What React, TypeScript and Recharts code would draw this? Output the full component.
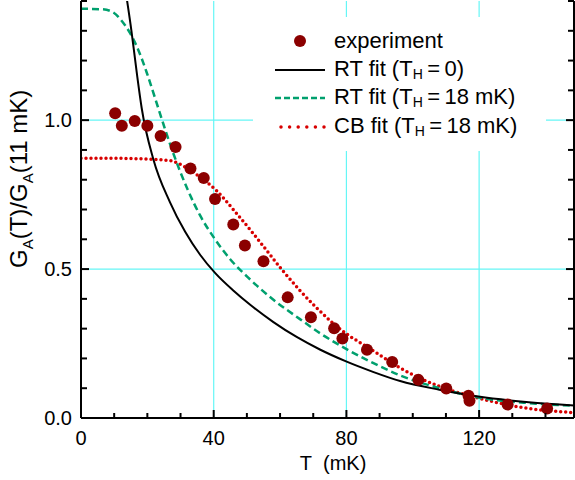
import React from "react";
import {
  ComposedChart, Line, Scatter, XAxis, YAxis, ReferenceLine,
} from "recharts";

// measured points
const expT = [10.3, 12.3, 16.2, 20.0, 24.0, 28.5, 33.0, 37.0, 40.4, 45.9, 49.4, 55.0, 62.3, 69.3, 76.3, 78.8, 86.2, 93.8, 101.7, 110.1, 116.8, 117.1, 128.6, 140.5];
const expG = [1.023, 0.981, 0.997, 0.981, 0.947, 0.910, 0.838, 0.806, 0.735, 0.650, 0.579, 0.526, 0.405, 0.338, 0.301, 0.267, 0.229, 0.188, 0.128, 0.099, 0.075, 0.058, 0.045, 0.032];

// RT fit, T_H = 0
const rt0T = [13.5, 15.2, 16.8, 18.3, 21.8, 26.8, 31.4, 35.9, 40.4, 45.9, 51.0, 58.0, 65.0, 72.0, 79.9, 88.0, 96.2, 108.0, 119.8, 135.0, 148.6];
const rt0G = [1.43, 1.30, 1.16, 1.04, 0.869, 0.725, 0.625, 0.548, 0.487, 0.428, 0.380, 0.322, 0.272, 0.230, 0.190, 0.155, 0.124, 0.095, 0.072, 0.053, 0.042];

// RT fit, T_H = 18 mK
const rt18T = [0, 6.6, 9.7, 12.3, 14.8, 17.3, 19.8, 22.3, 24.8, 27.3, 29.8, 32.3, 35.9, 40.4, 44.9, 51.0, 58.0, 66.0, 72.0, 79.9, 88.0, 96.2, 108.0, 119.8, 135.0, 148.6];
const rt18G = [1.374, 1.372, 1.362, 1.333, 1.292, 1.235, 1.16, 1.075, 0.988, 0.905, 0.83, 0.763, 0.68, 0.60, 0.534, 0.465, 0.397, 0.332, 0.285, 0.232, 0.185, 0.143, 0.10, 0.069, 0.050, 0.041];

// CB fit, T_H = 18 mK
const cbT = [0, 10, 18, 21.8, 26.8, 31.8, 36.9, 40.9, 45.9, 52.0, 56.0, 61.0, 66.0, 71.0, 76.0, 81.0, 86.1, 96.2, 108.3, 119.8, 131.4, 148.6];
const cbG = [0.872, 0.872, 0.870, 0.868, 0.864, 0.84, 0.80, 0.763, 0.70, 0.618, 0.562, 0.492, 0.428, 0.37, 0.318, 0.275, 0.24, 0.168, 0.105, 0.067, 0.038, 0.018];

const xTicks = [0, 10, 20, 30, 40, 50, 60, 70, 80, 90, 100, 110, 120, 130, 140];
const xLabels = [0, 40, 80, 120];
const yTicks = [0, 0.1, 0.2, 0.3, 0.4, 0.5, 0.6, 0.7, 0.8, 0.9, 1.0, 1.1, 1.2, 1.3, 1.4];
const yLabels = [0, 0.5, 1.0];
const xGrid = [40, 80, 120];
const yGrid = [0.5, 1.0];

const zip = (xs: number[], ys: number[]) => xs.map((T, i) => ({ T, y: ys[i] }));
const experiment = zip(expT, expG);
const rt0 = zip(rt0T, rt0G);
const rt18 = zip(rt18T, rt18G);
const cb = zip(cbT, cbG);

const FONT = '"Liberation Sans", Arial, sans-serif';
const DOT = "#8b0000";
const GREEN = "#00a06e";
const RED = "#d80000";
const GRID = "#66f6f6";

const isMajorY = (v: number) => yLabels.some((m) => Math.abs(m - v) < 1e-6);

const BottomTick = (p: any) => {
  const v = p.payload.value;
  const major = xLabels.includes(v);
  return (
    <g>
      <line x1={p.x} x2={p.x} y1={p.y} y2={p.y - (major ? 8 : 5)} stroke="#000" strokeWidth={2} />
      {major && (
        <text x={p.x} y={p.y + 27} textAnchor="middle" fontSize={20} fontFamily={FONT} fill="#000">{v}</text>
      )}
    </g>
  );
};

const TopTick = (p: any) => {
  const major = xLabels.includes(p.payload.value);
  return <line x1={p.x} x2={p.x} y1={p.y} y2={p.y + (major ? 8 : 5)} stroke="#000" strokeWidth={2} />;
};

const LeftTick = (p: any) => {
  const v = p.payload.value;
  const major = isMajorY(v);
  return (
    <g>
      <line x1={p.x} x2={p.x + (major ? 8 : 6)} y1={p.y} y2={p.y} stroke="#000" strokeWidth={2} />
      {major && (
        <text x={p.x - 9} y={p.y + 7} textAnchor="end" fontSize={20} fontFamily={FONT} fill="#000">{v.toFixed(1)}</text>
      )}
    </g>
  );
};

const RightTick = (p: any) => {
  const major = isMajorY(p.payload.value);
  return <line x1={p.x} x2={p.x - (major ? 8 : 6)} y1={p.y} y2={p.y} stroke="#000" strokeWidth={2} />;
};

const YTitle = () => (
  <text x={27} y={268} transform="rotate(-90, 27, 268)" fontSize={24} fontFamily={FONT} fill="#000">
    G<tspan fontSize={15} dy={6}>A</tspan>
    <tspan dy={-6}>(T)/G</tspan>
    <tspan fontSize={15} dy={6}>A</tspan>
    <tspan dy={-6}>(11 mK)</tspan>
  </text>
);

const XTitle = () => (
  <text x={333} y={470} textAnchor="middle" fontSize={20} fontFamily={FONT} fill="#000">
    {"T\u00a0\u00a0(mK)"}
  </text>
);

const Sub = ({ children }: { children: React.ReactNode }) => (
  <span style={{ fontSize: 14, position: "relative", top: 3 }}>{children}</span>
);

const legendRows = [
  { kind: "dot", label: <>experiment</> },
  { kind: "solid", label: <>RT fit (T<Sub>H</Sub>{"\u2009=\u20090)"}</> },
  { kind: "dash", label: <>RT fit (T<Sub>H</Sub>{"\u2009=\u200918 mK)"}</> },
  { kind: "dots", label: <>CB fit (T<Sub>H</Sub>{"\u2009=\u200918 mK)"}</> },
];

const Symbol = ({ kind }: { kind: string }) => (
  <svg width={81} height={28} style={{ flex: "none" }}>
    {kind === "dot" && <circle cx={47} cy={14} r={6} fill={DOT} />}
    {kind === "solid" && <line x1={22} x2={72} y1={14} y2={14} stroke="#000" strokeWidth={2} />}
    {kind === "dash" && <line x1={22} x2={72} y1={14} y2={14} stroke={GREEN} strokeWidth={2.5} strokeDasharray="6 3" />}
    {kind === "dots" && (
      <line x1={28} x2={72} y1={14} y2={14} stroke={RED} strokeWidth={3.5} strokeLinecap="round" strokeDasharray="0 8.6" />
    )}
  </svg>
);

export default function App() {
  return (
    <div style={{ position: "absolute", left: 0, top: 0, width: 575, height: 480, background: "#fff" }}>
      <ComposedChart width={575} height={480} margin={{ top: 1, right: 0, bottom: 0, left: 0 }}>
        <XAxis
          xAxisId={0} dataKey="T" type="number" domain={[0, 148.6]} ticks={xTicks} interval={0}
          height={62} tickSize={0} tickMargin={0} tickLine={false} tick={BottomTick}
          axisLine={{ stroke: "#000", strokeWidth: 2 }} allowDataOverflow
          label={{ content: XTitle }}
        />
        <XAxis
          xAxisId="top" orientation="top" dataKey="T" type="number" domain={[0, 148.6]} ticks={xTicks} interval={0}
          height={0} tickSize={0} tickMargin={0} tickLine={false} tick={TopTick}
          axisLine={{ stroke: "#000", strokeWidth: 2 }} allowDataOverflow
        />
        <YAxis
          yAxisId={0} type="number" domain={[0, 1.4]} ticks={yTicks} interval={0} width={81}
          tickSize={0} tickMargin={0} tickLine={false} tick={LeftTick}
          axisLine={{ stroke: "#000", strokeWidth: 2 }} allowDataOverflow
          label={{ content: YTitle }}
        />
        <YAxis
          yAxisId="right" orientation="right" type="number" domain={[0, 1.4]} ticks={yTicks} interval={0} width={1}
          tickSize={0} tickMargin={0} tickLine={false} tick={RightTick}
          axisLine={{ stroke: "#000", strokeWidth: 2 }} allowDataOverflow
        />
        {xGrid.map((v) => (
          <ReferenceLine key={"x" + v} x={v} stroke={GRID} strokeWidth={1.2} />
        ))}
        {yGrid.map((v) => (
          <ReferenceLine key={"y" + v} y={v} stroke={GRID} strokeWidth={1.2} />
        ))}
        <Line data={cb} dataKey="y" type="monotone" stroke={RED} strokeWidth={3.5} strokeLinecap="round"
          strokeDasharray="0 5" dot={false} activeDot={false} isAnimationActive={false} />
        <Line data={rt18} dataKey="y" type="monotone" stroke={GREEN} strokeWidth={2.5}
          strokeDasharray="7 4" dot={false} activeDot={false} isAnimationActive={false} />
        <Line data={rt0} dataKey="y" type="monotone" stroke="#000" strokeWidth={2}
          dot={false} activeDot={false} isAnimationActive={false} />
        <Scatter data={experiment} dataKey="y" isAnimationActive={false}
          shape={(p: any) => <circle cx={p.cx} cy={p.cy} r={6} fill={DOT} />} />
      </ComposedChart>
      <div style={{
        position: "absolute", left: 253, top: 17, width: 293, height: 134, background: "#fff",
        fontFamily: FONT, fontSize: 22, color: "#000",
      }}>
        {legendRows.map((r, i) => (
          <div key={i} style={{
            position: "absolute", left: 0, top: 10 + i * 28.5, height: 28, width: 293,
            display: "flex", alignItems: "center", whiteSpace: "nowrap", lineHeight: "28px",
          }}>
            <Symbol kind={r.kind} />
            <span>{r.label}</span>
          </div>
        ))}
      </div>
    </div>
  );
}
